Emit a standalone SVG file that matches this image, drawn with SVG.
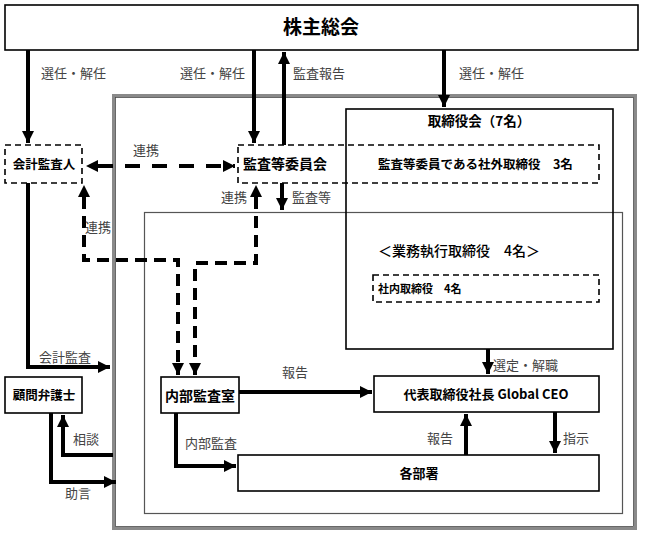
<svg xmlns="http://www.w3.org/2000/svg" width="647" height="537" viewBox="0 0 647 537">
<defs>
<style>
.box{fill:#fff;stroke:#000;stroke-width:1.6}
.dbox{fill:none;stroke:#000;stroke-width:1.6;stroke-dasharray:6 4}
.t{font-family:"Noto Sans CJK JP","Liberation Sans",sans-serif;font-weight:bold;fill:#000}
.lbl{font-family:"Noto Sans CJK JP","Liberation Sans",sans-serif;font-size:13px;fill:#444}
.ln{fill:none;stroke:#000;stroke-width:4}
.dl{fill:none;stroke:#000;stroke-width:4;stroke-dasharray:12 7}
</style>
<marker id="ah" viewBox="0 0 10 10" refX="10" refY="5" markerWidth="3" markerHeight="3" orient="auto" markerUnits="strokeWidth">
<path d="M0,0 L10,5 L0,10 Z" fill="#000"/>
</marker>
<marker id="ahs" viewBox="0 0 10 10" refX="0" refY="5" markerWidth="3" markerHeight="3" orient="auto-start-reverse" markerUnits="strokeWidth">
<path d="M0,0 L10,5 L0,10 Z" fill="#000"/>
</marker>
</defs>
<rect width="647" height="537" fill="#fff"/>

<!-- frames -->
<g id="outer-frame">
<rect x="113.5" y="95.5" width="522" height="433" fill="none" stroke="#8a8a8a" stroke-width="3"/>
<rect x="115.5" y="97.5" width="518" height="429" fill="none" stroke="#444" stroke-width="0.8"/>
</g>
<rect id="inner-frame" x="144.5" y="212.5" width="478" height="301" fill="none" stroke="#555" stroke-width="1.2"/>

<g id="board">
<rect class="box" x="346" y="109" width="267" height="240" style="fill:none"/>
<text class="t" x="479" y="126" font-size="13.5" text-anchor="middle">取締役会（7名）</text>
<text class="t" x="378" y="256" font-size="14" style="font-weight:500">＜業務執行取締役　4名＞</text>
</g>

<g id="shareholders">
<rect class="box" x="5" y="5" width="633" height="45"/>
<text class="t" x="321" y="34" font-size="19" text-anchor="middle">株主総会</text>
</g>

<g id="auditor">
<rect class="dbox" x="5" y="145" width="77" height="38" style="fill:#fff"/>
<text class="t" x="44" y="169" font-size="12.5" text-anchor="middle">会計監査人</text>
</g>

<g id="audit-committee">
<rect class="dbox" x="238" y="145" width="361" height="38"/>
<text class="t" x="243" y="169" font-size="14">監査等委員会</text>
<text class="t" x="378" y="169" font-size="12.5">監査等委員である社外取締役　3名</text>
</g>

<g id="internal-directors">
<rect class="dbox" x="373" y="275" width="226" height="27"/>
<text class="t" x="378" y="293" font-size="11">社内取締役　4名</text>
</g>

<g id="lawyer">
<rect class="box" x="5" y="377" width="77" height="36"/>
<text class="t" x="44" y="400" font-size="12.5" text-anchor="middle">顧問弁護士</text>
</g>

<g id="internal-audit">
<rect class="box" x="161" y="377" width="78" height="36"/>
<text class="t" x="200" y="401" font-size="14" text-anchor="middle">内部監査室</text>
</g>

<g id="ceo">
<rect class="box" x="374" y="376" width="225" height="36"/>
<text class="t" x="486" y="399" font-size="13" text-anchor="middle">代表取締役社長 Global CEO</text>
</g>

<g id="departments">
<rect class="box" x="238" y="455" width="361" height="36"/>
<text class="t" x="419" y="478" font-size="13" text-anchor="middle">各部署</text>
</g>

<g id="connectors">
<path class="ln" d="M28,50 V143" marker-end="url(#ah)"/>
<path class="ln" d="M254,50 V143" marker-end="url(#ah)"/>
<path class="ln" d="M284,145 V52" marker-end="url(#ah)"/>
<path class="ln" d="M444,50 V107" marker-end="url(#ah)"/>
<path class="ln" d="M98,166 H113"/>
<path class="dl" d="M98,166 H235" marker-start="url(#ahs)" marker-end="url(#ah)" style="stroke-dasharray:15 12"/>
<path class="dl" d="M84,197 V260 H178 V375" marker-start="url(#ahs)" marker-end="url(#ah)"/>
<path class="dl" d="M256,197 V263 H195 V375" marker-start="url(#ahs)" marker-end="url(#ah)"/>
<path class="ln" d="M282,183 V210" marker-end="url(#ah)"/>
<path class="ln" d="M28,183 V367 H110" marker-end="url(#ah)"/>
<path class="ln" d="M113,455 H63 V415" marker-end="url(#ah)"/>
<path class="ln" d="M51,413 V482 H116" marker-end="url(#ah)"/>
<path class="ln" d="M176,413 V466 H236" marker-end="url(#ah)"/>
<path class="ln" d="M239,392 H372" marker-end="url(#ah)"/>
<path class="ln" d="M488,349 V374" marker-end="url(#ah)"/>
<path class="ln" d="M466,455 V414" marker-end="url(#ah)"/>
<path class="ln" d="M555,412 V453" marker-end="url(#ah)"/>
</g>

<g id="labels">
<text class="lbl" x="41" y="78">選任・解任</text>
<text class="lbl" x="180" y="78">選任・解任</text>
<text class="lbl" x="293" y="78">監査報告</text>
<text class="lbl" x="459" y="78">選任・解任</text>
<text class="lbl" x="133" y="155">連携</text>
<text class="lbl" x="85" y="232">連携</text>
<text class="lbl" x="221" y="202">連携</text>
<text class="lbl" x="292" y="202">監査等</text>
<text class="lbl" x="39" y="362">会計監査</text>
<text class="lbl" x="282" y="377">報告</text>
<text class="lbl" x="493" y="370">選定・解職</text>
<text class="lbl" x="73" y="444">相談</text>
<text class="lbl" x="185" y="448">内部監査</text>
<text class="lbl" x="427" y="443">報告</text>
<text class="lbl" x="563" y="443">指示</text>
<text class="lbl" x="65" y="498">助言</text>
</g>
</svg>
